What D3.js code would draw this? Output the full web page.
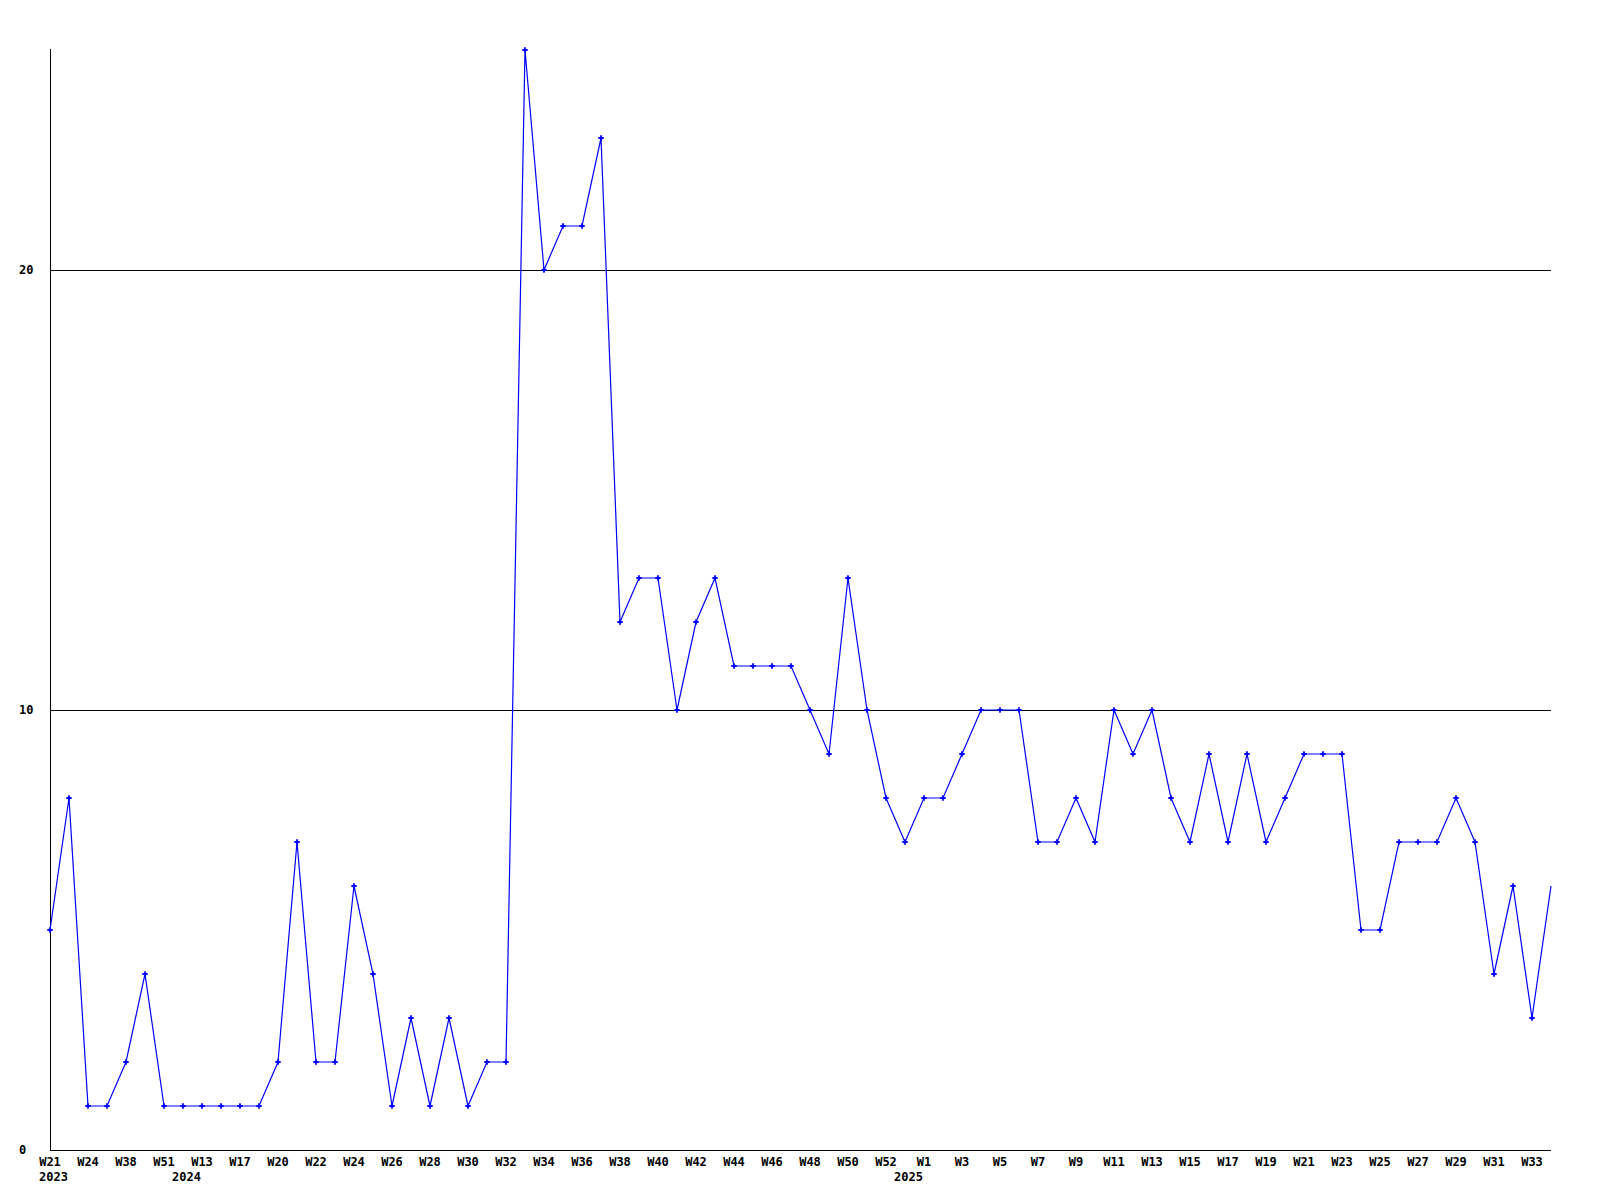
<!DOCTYPE html>
<html>
<head>
<meta charset="utf-8">
<script src="https://cdn.jsdelivr.net/npm/d3@7"></script>
<style>
  html, body { margin: 0; padding: 0; background: #ffffff; }
  svg { display: block; }
  text { font-family: "DejaVu Sans Mono", "Liberation Mono", monospace; font-weight: bold; font-size: 12px; fill: #000; }
</style>
</head>
<body>
<svg id="chart" width="1600" height="1200"></svg>
<script>
// ---- data ----
const weeks = [
  "W21","W22","W24","W30","W38","W44","W51",
  "W5","W13","W15","W17","W18","W20","W21","W22","W23","W24","W25","W26","W27",
  "W28","W29","W30","W31","W32","W33","W34","W35","W36","W37","W38","W39","W40",
  "W41","W42","W43","W44","W45","W46","W47","W48","W49","W50","W51","W52",
  "W0","W1","W2","W3","W4","W5","W6","W7","W8","W9","W10","W11","W12","W13",
  "W14","W15","W16","W17","W18","W19","W20","W21","W22","W23","W24","W25","W26",
  "W27","W28","W29","W30","W31","W32","W33","W34"
];
const years = [
  2023,2023,2023,2023,2023,2023,2023,
  2024,2024,2024,2024,2024,2024,2024,2024,2024,2024,2024,2024,2024,
  2024,2024,2024,2024,2024,2024,2024,2024,2024,2024,2024,2024,2024,
  2024,2024,2024,2024,2024,2024,2024,2024,2024,2024,2024,2024,
  2025,2025,2025,2025,2025,2025,2025,2025,2025,2025,2025,2025,2025,2025,
  2025,2025,2025,2025,2025,2025,2025,2025,2025,2025,2025,2025,2025,
  2025,2025,2025,2025,2025,2025,2025,2025
];
const values = [
  5,8,1,1,2,4,1,1,1,1,
  1,1,2,7,2,2,6,4,1,3,
  1,3,1,2,2,25,20,21,21,23,
  12,13,13,10,12,13,11,11,11,11,
  10,9,13,10,8,7,8,8,9,10,
  10,10,7,7,8,7,10,9,10,8,
  7,9,7,9,7,8,9,9,9,5,
  5,7,7,7,8,7,4,6,3,6
];
const yTicks = [0, 10, 20];

// ---- chart ----
(function () {
  const keys = weeks.map((w, i) => years[i] + "-" + w);
  const data = keys.map((k, i) => ({ key: k, week: weeks[i], year: years[i], value: values[i], i }));

  const mLeft = 50, mRight = 1551, mTop = 50, mBottom = 1150;
  const svg = d3.select("#chart");

  const x = d3.scalePoint().domain(keys).range([mLeft, mRight]);
  const y = d3.scaleLinear().domain([0, 25]).range([mBottom, mTop]);

  // grid lines
  svg.append("g").selectAll("line").data(yTicks.filter(t => t > 0)).join("line")
    .attr("x1", mLeft).attr("x2", mRight)
    .attr("y1", d => Math.round(y(d)) + 0.5).attr("y2", d => Math.round(y(d)) + 0.5)
    .attr("stroke", "#000").attr("stroke-width", 1);

  // axes lines
  svg.append("line").attr("x1", mLeft + 0.5).attr("x2", mLeft + 0.5)
    .attr("y1", y(25) - 1).attr("y2", mBottom + 0.5).attr("stroke", "#000");
  svg.append("line").attr("x1", mLeft).attr("x2", mRight)
    .attr("y1", mBottom + 0.5).attr("y2", mBottom + 0.5).attr("stroke", "#000");

  // y labels
  svg.append("g").selectAll("text").data(yTicks).join("text")
    .attr("x", 19).attr("y", d => y(d) + 4)
    .text(d => d);

  // x week labels (every other point)
  svg.append("g").selectAll("text").data(data.filter(d => d.i % 2 === 0)).join("text")
    .attr("x", d => x(d.key)).attr("y", 1166)
    .attr("text-anchor", "middle")
    .text(d => d.week);

  // year labels at first point of each year
  svg.append("g").selectAll("text").data(data.filter((d, i) => i === 0 || years[i - 1] !== d.year)).join("text")
    .attr("x", d => x(d.key) - 11).attr("y", 1181)
    .text(d => d.year);

  // line
  const line = d3.line().x(d => x(d.key)).y(d => y(d.value));
  svg.append("path").datum(data)
    .attr("fill", "none").attr("stroke", "#0000ff").attr("stroke-width", 1.2)
    .attr("d", line);

  // markers
  const sym = d3.symbol().type(d3.symbolCross).size(16);
  svg.append("g").selectAll("path").data(data.slice(0, data.length - 1)).join("path")
    .attr("transform", d => `translate(${x(d.key)},${y(d.value)})`)
    .attr("d", sym)
    .attr("fill", "#0000ff");
})();
</script>
</body>
</html>
